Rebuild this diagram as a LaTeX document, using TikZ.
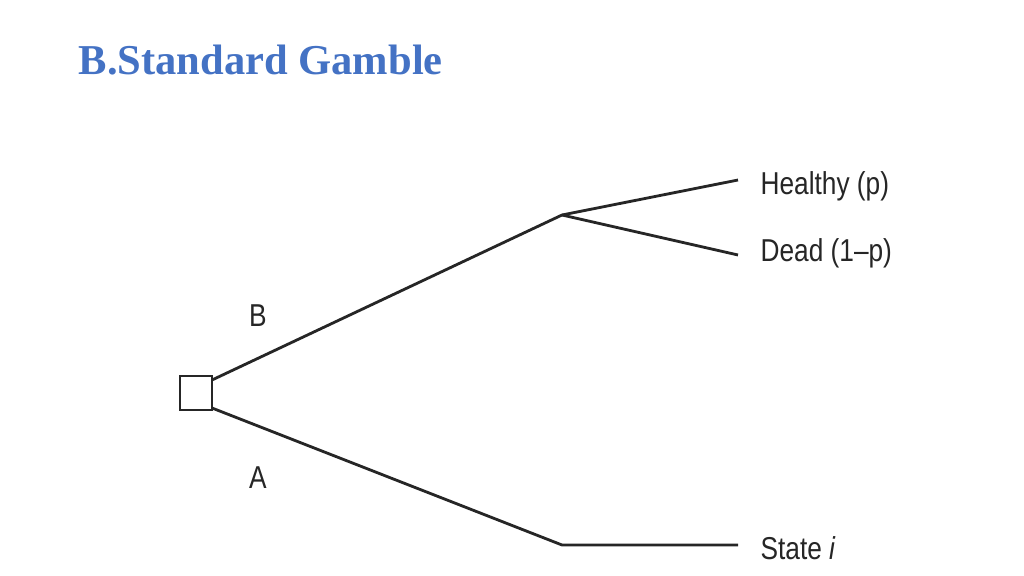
\documentclass[tikz,border=0pt]{standalone}
\usepackage{fontspec}
\setmainfont{Liberation Serif}
\newfontfamily\lblfont{Liberation Sans}
\definecolor{titleblue}{HTML}{4472C4}
\begin{document}
\begin{tikzpicture}[x=0.01cm,y=-0.01cm,
  ln/.style={line width=0.8pt,black!85},
  lbl/.style={font=\lblfont\fontsize{9}{10}\selectfont,anchor=west,inner sep=0pt,xscale=0.83,text=black!85}]
\useasboundingbox (0,0) rectangle (1024,576);
\node[anchor=base west,inner sep=0pt,text=titleblue,font=\bfseries\fontsize{12.1}{14}\selectfont] (title) at (78,75) {B.Standard Gamble};
\node[draw,line width=0.7pt,black!85,minimum width=0.32cm,minimum height=0.34cm,inner sep=0pt] (sq) at (196,393) {};
\coordinate (c) at (562,215);
\coordinate (d) at (562,545);
\coordinate (h) at (738,180);
\coordinate (de) at (738,255);
\coordinate (s) at (738,545);
\draw[ln] (212,380) -- (c) -- (h);
\draw[ln] (c) -- (de);
\draw[ln] (212,408) -- (d) -- (s);
\node[lbl] (hl) at (760,186) {Healthy (p)};
\node[lbl] (dl) at (760,253) {Dead (1–p)};
\node[lbl] (sl) at (760,548) {State \textit{i}};
\node[lbl,anchor=center] (b) at (258,316) {B};
\node[lbl,anchor=center] (a) at (258,478) {A};
\end{tikzpicture}
\end{document}
